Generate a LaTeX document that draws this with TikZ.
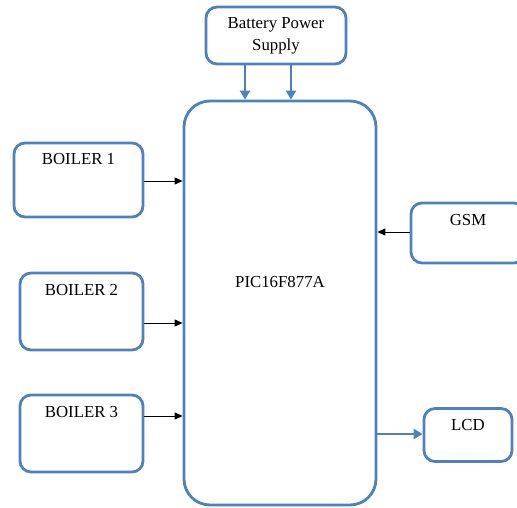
\documentclass[tikz,border=0pt]{standalone}
\usepackage{fontspec}
\setmainfont{Liberation Serif}
\usetikzlibrary{arrows.meta}
\definecolor{boxblue}{RGB}{79,129,189}
\tikzset{
  blk/.style={draw=boxblue, line width=2.8pt, rounded corners=11pt, fill=white, inner sep=0pt},
  lbl/.style={font=\fontsize{16.8}{22}\selectfont, inner sep=0pt, align=center},
  sig/.style={-{Triangle[length=8pt,width=7pt]}, line width=0.9pt, black},
  pwr/.style={-{Triangle[length=9pt,width=10pt]}, line width=2.8pt, draw=boxblue, fill=boxblue}
}
\begin{document}
\begin{tikzpicture}[x=1pt,y=-1pt]
\useasboundingbox (0,0) rectangle (517,508);
\clip (0,0) rectangle (517,508);
% boxes
\node[blk, minimum width=140pt, minimum height=57pt] (bat) at (276,35.5) {};
\node[blk, rounded corners=26pt, minimum width=192pt, minimum height=404pt] (pic) at (280,303) {};
\node[blk, minimum width=129pt, minimum height=74pt] (b1) at (78.5,180) {};
\node[blk, minimum width=123pt, minimum height=77pt] (b2) at (81.5,311.5) {};
\node[blk, minimum width=123pt, minimum height=77pt] (b3) at (81.5,433.5) {};
\node[blk, minimum width=114pt, minimum height=60pt] (gsm) at (468,233) {};
\node[blk, minimum width=88pt, minimum height=53pt] (lcd) at (468,435) {};
% labels
\node[lbl] (tbat) at (bat.center) {Battery Power\\Supply};
\node[lbl, anchor=base] (tpic) at ([yshift=15.5pt]pic.center) {PIC16F877A};
\node[lbl, anchor=base] (tb1) at ([yshift=-23pt]b1.north) {BOILER 1};
\node[lbl, anchor=base] (tb2) at ([yshift=-24pt]b2.north) {BOILER 2};
\node[lbl, anchor=base] (tb3) at ([yshift=-24pt]b3.north) {BOILER 3};
\node[lbl, anchor=base] (tgsm) at ([yshift=-24pt]gsm.north) {GSM};
\node[lbl, anchor=base] (tlcd) at ([yshift=-23pt]lcd.north) {LCD};
% connectors
\draw[pwr] ([xshift=-31pt]bat.south) -- ([xshift=-31pt]bat.south |- pic.north);
\draw[pwr] ([xshift=15pt]bat.south) -- ([xshift=15pt]bat.south |- pic.north);
\draw[sig] ([yshift=-1pt]b1.east) -- ([yshift=-1pt]b1.east -| pic.west);
\draw[sig] ([yshift=-11.5pt]b2.east) -- ([yshift=-11.5pt]b2.east -| pic.west);
\draw[sig] ([yshift=17.5pt]b3.east) -- ([yshift=17.5pt]b3.east -| pic.west);
\draw[sig] ([yshift=1pt]gsm.west) -- ([yshift=1pt]gsm.west -| pic.east);
\draw[pwr] ([yshift=1pt]lcd.west -| pic.east) -- ([yshift=1pt]lcd.west);
\end{tikzpicture}
\end{document}
